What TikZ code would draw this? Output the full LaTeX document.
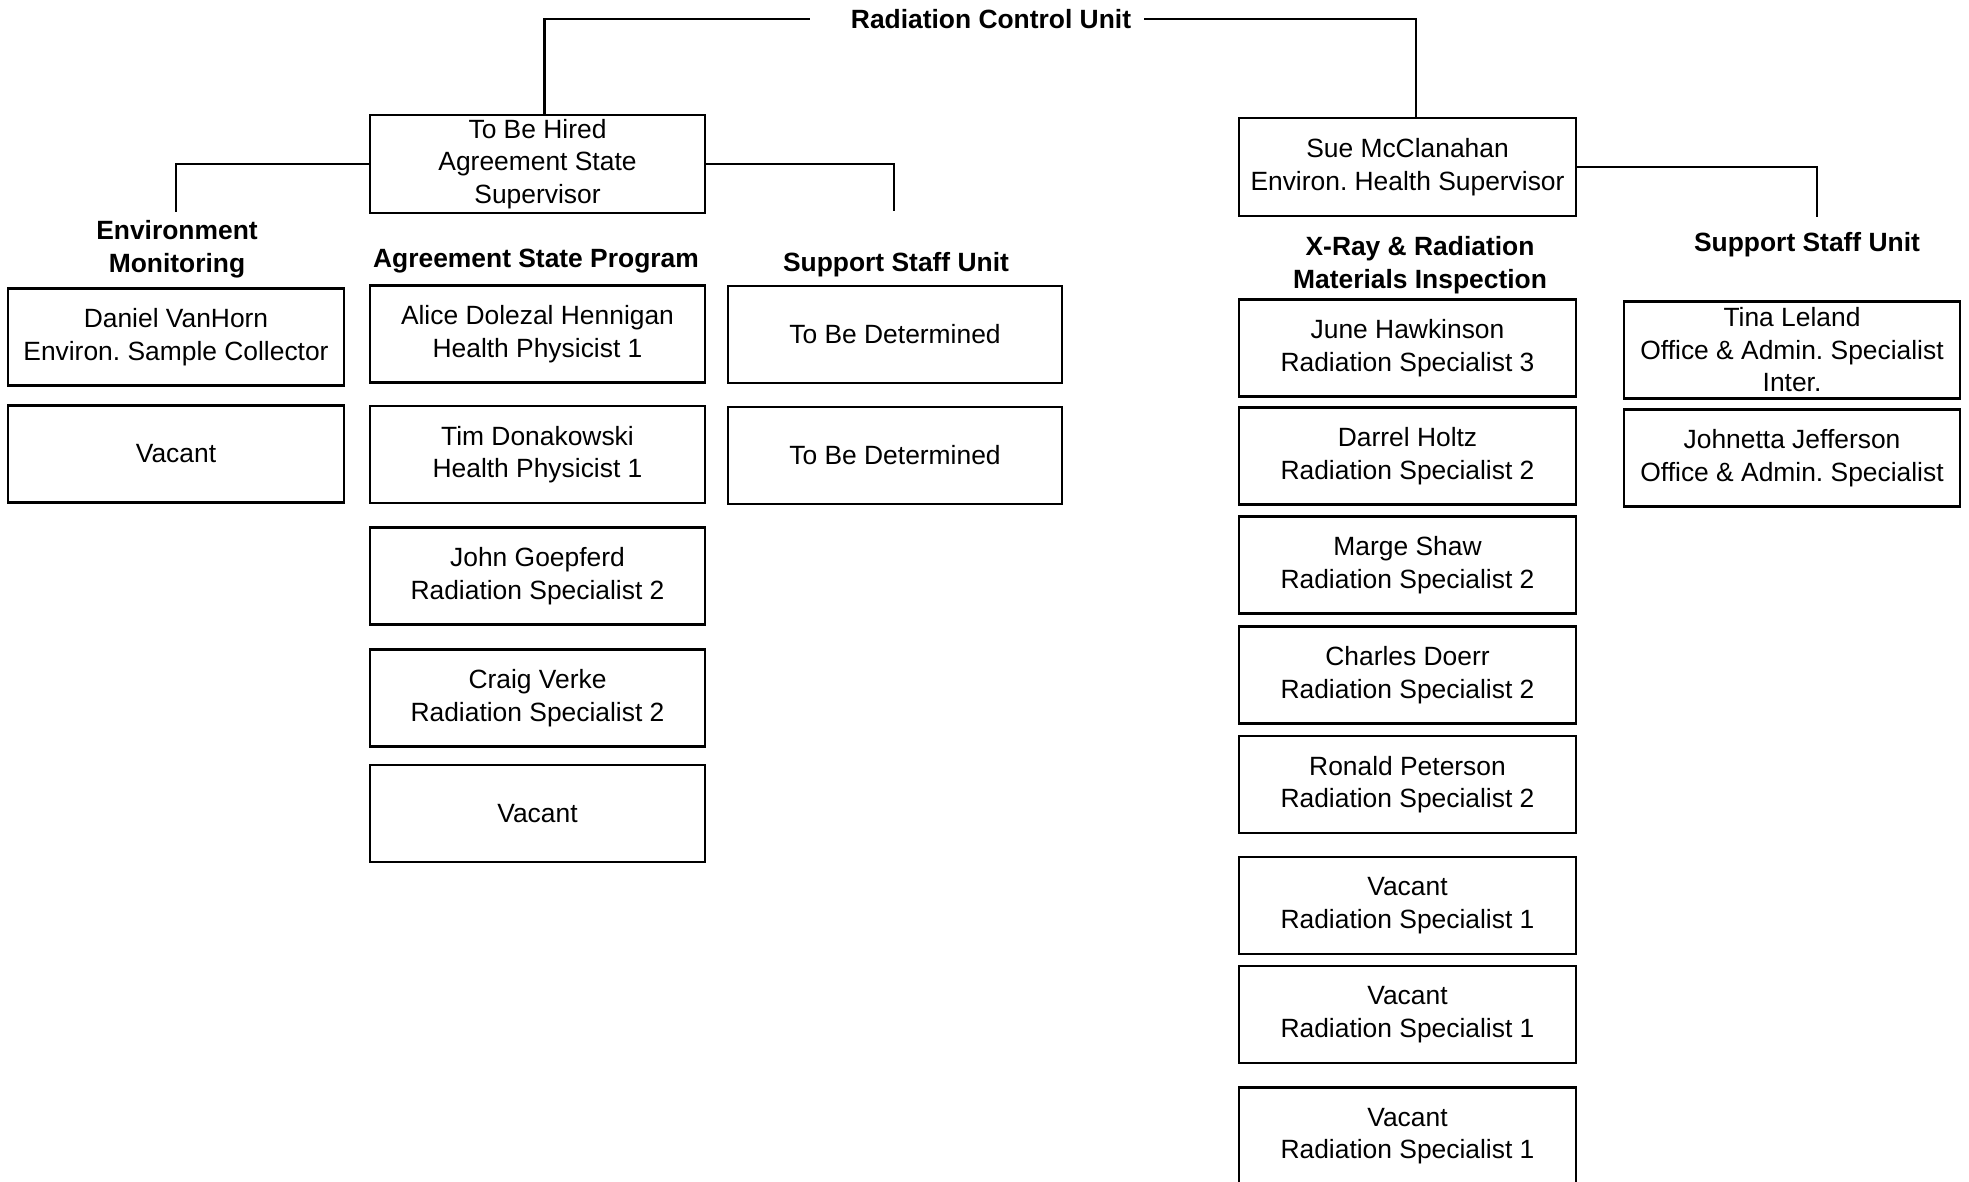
\documentclass[tikz,border=0pt]{standalone}
\usepackage{fontspec}
\setmainfont{Liberation Sans}
\begin{document}
\frenchspacing
\begin{tikzpicture}[x=1pt,y=-1pt,
  every node/.style={font=\fontsize{26.4}{32.5}\selectfont, align=center},
  box/.style={draw, line width=2.6pt, minimum width=336pt, minimum height=97pt, inner sep=0pt},
  hdr/.style={font=\fontsize{26.4}{33}\selectfont\bfseries, inner sep=0pt},
  link/.style={line width=2.6pt}]
\useasboundingbox (0,0) rectangle (1969,1182);

% unit head
\node[hdr] (title) at (991,19) {Radiation Control Unit};

% supervisors
\node[box, minimum width=335pt, minimum height=98pt] (tbh) at (537.5,164) {To Be Hired\\Agreement State\\Supervisor};
\node[box, minimum width=337pt, minimum height=98pt] (sue) at (1407.5,167) {Sue McClanahan\\Environ. Health Supervisor};

% section headings
\node[hdr] (envh) at (177,249) {Environment\\Monitoring};
\node[hdr] (asph) at (536,261) {Agreement State Program};
\node[hdr] (sslh) at (896,264.5) {Support Staff Unit};
\node[hdr] (xrh) at (1420,265) {X-Ray \& Radiation\\Materials Inspection};
\node[hdr] (ssrh) at (1807,244.5) {Support Staff Unit};

% environment monitoring
\node[box] (env1) at (176,337) {Daniel VanHorn\\Environ. Sample Collector};
\node[box] (env2) at (176,454) {Vacant};

% agreement state program
\node[box, minimum width=335pt] (asp1) at (537.5,334) {Alice Dolezal Hennigan\\Health Physicist 1};
\node[box, minimum width=335pt] (asp2) at (537.5,454.5) {Tim Donakowski\\Health Physicist 1};
\node[box, minimum width=335pt] (asp3) at (537.5,576) {John Goepferd\\Radiation Specialist 2};
\node[box, minimum width=335pt] (asp4) at (537.5,698) {Craig Verke\\Radiation Specialist 2};
\node[box, minimum width=335pt] (asp5) at (537.5,813.5) {Vacant};

% support staff, agreement state side
\node[box, minimum width=334pt] (ssl1) at (895,334.5) {To Be Determined};
\node[box, minimum width=334pt] (ssl2) at (895,455.5) {To Be Determined};

% x-ray and radiation materials inspection
\node[box, minimum width=337pt] (xr1) at (1407.5,348) {June Hawkinson\\Radiation Specialist 3};
\node[box, minimum width=337pt] (xr2) at (1407.5,456) {Darrel Holtz\\Radiation Specialist 2};
\node[box, minimum width=337pt] (xr3) at (1407.5,565) {Marge Shaw\\Radiation Specialist 2};
\node[box, minimum width=337pt] (xr4) at (1407.5,675) {Charles Doerr\\Radiation Specialist 2};
\node[box, minimum width=337pt] (xr5) at (1407.5,784.5) {Ronald Peterson\\Radiation Specialist 2};
\node[box, minimum width=337pt] (xr6) at (1407.5,905.5) {Vacant\\Radiation Specialist 1};
\node[box, minimum width=337pt] (xr7) at (1407.5,1014.5) {Vacant\\Radiation Specialist 1};
\node[box, minimum width=337pt] (xr8) at (1407.5,1136) {Vacant\\Radiation Specialist 1};

% support staff, environmental health side
\node[box, minimum width=336pt] (ssr1) at (1792,350) {Tina Leland\\Office \& Admin. Specialist\\Inter.};
\node[box, minimum width=336pt] (ssr2) at (1792,458) {Johnetta Jefferson\\Office \& Admin. Specialist};

% open ends of the branch lines above the headings
\coordinate (envtop) at (176,212);
\coordinate (ssltop) at (894,211);
\coordinate (ssrtop) at (1817,217);

% connectors
\draw[link] ([xshift=-41pt]title.west) -| ([xshift=7pt]tbh.north);
\draw[link] ([xshift=13pt]title.east) -| ([xshift=8.5pt]sue.north);
\draw[link] (tbh.west) -| (envtop);
\draw[link] (tbh.east) -| (ssltop);
\draw[link] (sue.east) -| (ssrtop);
\end{tikzpicture}
\end{document}
